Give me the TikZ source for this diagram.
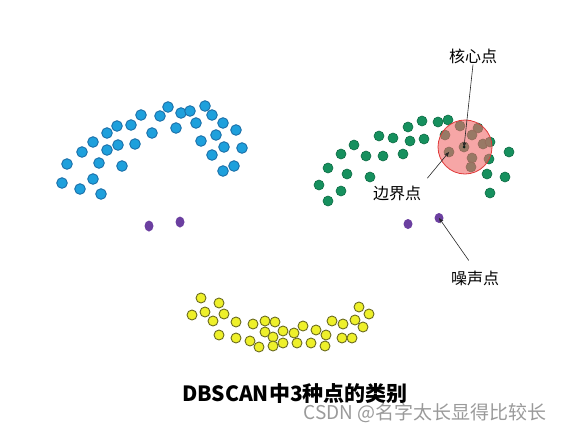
\documentclass[tikz,border=0pt]{standalone}
\usepackage{fontspec}
\newfontfamily\cjk{Noto Sans CJK SC}
\usetikzlibrary{arrows.meta}
\definecolor{DotBlue}{HTML}{1EA0DC}
\definecolor{EdgeBlue}{HTML}{1A6FA8}
\definecolor{DotGreen}{HTML}{16905E}
\definecolor{EdgeGreen}{HTML}{0E6B44}
\definecolor{DotYellow}{HTML}{EEF02A}
\definecolor{EdgeYellow}{HTML}{6B6B20}
\definecolor{DotPurple}{HTML}{6B3FA0}
\definecolor{CoreRed}{HTML}{F06A6A}
\definecolor{CoreEdge}{HTML}{E03A3A}
\definecolor{MarkGray}{HTML}{9A9A9A}

\begin{document}
\begin{tikzpicture}[x=1pt, y=-1pt,
    blue dot/.style={fill=DotBlue, draw=EdgeBlue, line width=0.9pt},
    green dot/.style={fill=DotGreen, draw=EdgeGreen, line width=0.6pt},
    yellow dot/.style={fill=DotYellow, draw=EdgeYellow, line width=0.9pt},
    noise dot/.style={fill=DotPurple},
    tag/.style={font=\cjk\fontsize{16}{16}\selectfont, inner sep=1pt},
    pointer/.style={-{Stealth[length=5pt, width=4pt]}, line width=0.6pt, black!85}]
    \useasboundingbox (0,0) rectangle (567,434);

    % Cluster 1 (blue)
    \foreach \x/\y in {168/107, 205/106, 141/115, 160/116, 181/113, 190/111,
        212/115, 117/126, 131/125, 176/128, 196/123, 223/123, 236/130,
        107/133, 152/133, 216/135, 93/142, 118/145, 135/144, 201/141,
        224/147, 242/148, 82/152, 107/150, 212/155, 67/164, 99/163,
        122/166, 223/171, 234/166, 62/183, 93/179, 80/189, 101/194}
        \filldraw[blue dot] (\x,\y) circle (5.3);

    % Noise under cluster 1
    \fill[noise dot] (149,226) ellipse (4.5 and 5.5);
    \fill[noise dot] (180,222) ellipse (4.5 and 5.5);

    % Cluster 2 (green)
    \foreach \x/\y in {422/121, 438/122, 448/120, 460/126, 478/128, 408/127,
        379/136, 393/138, 410/141, 424/139, 445/135, 472/135, 483/144,
        490/142, 354/145, 341/154, 366/156, 383/156, 403/154,
        472/158, 509/152, 489/159, 328/168, 347/174, 370/177, 471/167,
        487/174, 505/177, 319/185, 341/191, 490/193, 328/201}
        \filldraw[green dot] (\x,\y) circle (5);
    \filldraw[green dot] (449,152) circle (5) coordinate (border);
    \filldraw[green dot] (464,147) circle (5) coordinate (core);

    % Eps neighbourhood of the core point
    \filldraw[fill=CoreRed, fill opacity=0.6, draw=CoreEdge, line width=0.8pt]
        (465,147) circle (27);
    \fill[black!80!DotGreen] (core) circle (1.5);

    % Noise under cluster 2
    \fill[noise dot] (408,224) ellipse (4.5 and 5);
    \fill[noise dot] (439,218) ellipse (4.5 and 5) coordinate (noise);

    % Cluster 3 (yellow)
    \foreach \x/\y in {201/298, 219/303, 192/315, 205/312, 224/314, 213/321,
        236/322, 253/324, 265/321, 275/322, 265/332, 283/331, 294/333,
        303/326, 316/330, 326/335, 332/321, 343/324, 355/320, 359/307,
        369/314, 363/327, 219/335, 236/338, 250/341, 259/347, 273/337,
        273/346, 283/343, 297/343, 311/343, 325/346, 342/338, 352/338}
        \filldraw[yellow dot] (\x,\y) circle (5);

    % Labels
    \node[tag] (coretag) at (473,56) {核心点};
    \node[tag] (bordertag) at (397,193) {边界点};
    \node[tag] (noisetag) at (475,278) {噪声点};
    \draw[pointer] (coretag.south) -- (core);
    \draw[pointer, shorten <=8pt] (bordertag.north east) -- (border);
    \draw[pointer, shorten <=11pt] (noisetag.north) -- (noise);

    % Caption and watermark
    \node[font=\cjk\bfseries\fontsize{21}{21}\selectfont] (caption) at (295,394) {DBSCAN中3种点的类别};
    \node[font=\cjk\fontsize{19}{19}\selectfont, text=MarkGray] (mark) at (425,413) {CSDN @名字太长显得比较长};
\end{tikzpicture}
\end{document}
